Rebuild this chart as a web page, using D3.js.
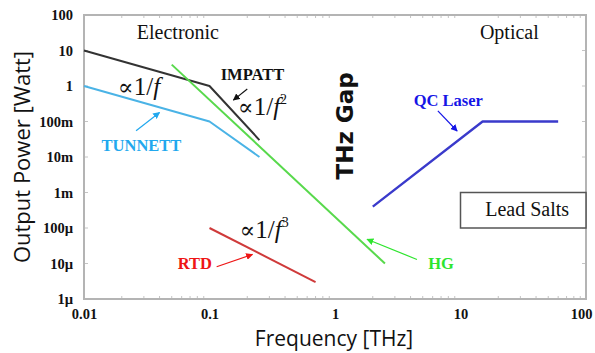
<!DOCTYPE html>
<html>
<head>
<meta charset="utf-8">
<script src="https://cdn.jsdelivr.net/npm/d3@7"></script>
<style>
  body { margin: 0; background: #fff; }
  svg { display: block; }
</style>
</head>
<body>
<div id="chart"></div>
<script>
// THz gap chart: output power vs frequency, log-log

// tick values and labels
var xTicks = [0.01, 0.1, 1, 10, 100];
var xTickLabels = ["0.01", "0.1", "1", "10", "100"];
var yTicks = [100, 10, 1, 0.1, 0.01, 0.001, 1e-4, 1e-5, 1e-6];
var yTickLabels = ["100", "10", "1", "100m", "10m", "1m", "100\u00b5", "10\u00b5", "1\u00b5"];

// source curves (THz, Watt)
var impattFreq = [0.01, 0.1, 0.25];
var impattPower = [10, 1, 0.03];
var tunnettFreq = [0.01, 0.1, 0.25];
var tunnettPower = [1, 0.1, 0.01];
var hgFreq = [0.05, 2.5];
var hgPower = [4, 1e-5];
var rtdFreq = [0.1, 0.7];
var rtdPower = [1e-4, 3e-6];
var qclFreq = [2, 15, 60];
var qclPower = [4e-4, 0.1, 0.1];

// lead salts region
var leadFreq = [10, 100];
var leadPower = [1e-3, 1e-4];

var svgWidth = 595;
var svgHeight = 353;

var svg = d3.select("#chart")
  .append("svg")
  .attr("width", svgWidth)
  .attr("height", svgHeight);

var xScale = d3.scaleLog().domain([0.01, 100]).range([84, 586]);
var yScale = d3.scaleLog().domain([1e-6, 100]).range([299, 15]);

var x0 = xScale.range()[0], x1 = xScale.range()[1];
var yTop = yScale.range()[1], yBot = yScale.range()[0];

// arrow heads
var defs = svg.append("defs");
function addMarker(id, color) {
  defs.append("marker")
    .attr("id", id)
    .attr("viewBox", "0 0 10 10")
    .attr("refX", 9).attr("refY", 5)
    .attr("markerWidth", 7).attr("markerHeight", 7)
    .attr("markerUnits", "userSpaceOnUse")
    .attr("orient", "auto")
    .append("path")
    .attr("d", "M0,0 L10,5 L0,10 z")
    .attr("fill", color);
}
addMarker("arBlack", "#111");
addMarker("arCyan", "#22a8ee");
addMarker("arBlue", "#1515e6");
addMarker("arGreen", "#2ee52e");
addMarker("arRed", "#ee1515");

// minor ticks inside the frame
var minor = [];
for (var e = -2; e < 2; e++) {
  for (var k = 2; k <= 9; k++) minor.push(k * Math.pow(10, e));
}
var tickG = svg.append("g").attr("stroke", "#c4c4c4").attr("stroke-width", 1);
tickG.selectAll("line.bm").data(minor).enter().append("line")
  .attr("x1", d => xScale(d)).attr("x2", d => xScale(d))
  .attr("y1", yBot).attr("y2", yBot - 3);
tickG.selectAll("line.tm").data(minor).enter().append("line")
  .attr("x1", d => xScale(d)).attr("x2", d => xScale(d))
  .attr("y1", yTop).attr("y2", yTop + 3);
tickG.selectAll("line.lm").data(yTicks).enter().append("line")
  .attr("x1", x0).attr("x2", x0 + 4)
  .attr("y1", d => yScale(d)).attr("y2", d => yScale(d));
tickG.selectAll("line.rm").data(yTicks).enter().append("line")
  .attr("x1", x1).attr("x2", x1 - 4)
  .attr("y1", d => yScale(d)).attr("y2", d => yScale(d));

// frame
svg.append("rect")
  .attr("x", x0).attr("y", yTop)
  .attr("width", x1 - x0).attr("height", yBot - yTop)
  .attr("fill", "none")
  .attr("stroke", "#b4b4b4")
  .attr("stroke-width", 2);

// axes labels through d3 axes
var bottomAxis = d3.axisBottom(xScale)
  .tickValues(xTicks)
  .tickFormat((d, i) => xTickLabels[i])
  .tickSize(0).tickPadding(10);
var leftAxis = d3.axisLeft(yScale)
  .tickValues(yTicks)
  .tickFormat((d, i) => yTickLabels[i])
  .tickSize(0).tickPadding(11);

var xg = svg.append("g")
  .attr("transform", `translate(0, ${yBot})`)
  .call(bottomAxis);
var yg = svg.append("g")
  .attr("transform", `translate(${x0}, 0)`)
  .call(leftAxis);
[xg, yg].forEach(function(g) {
  g.select(".domain").remove();
  g.selectAll("text")
    .attr("font-family", "'Liberation Serif', 'Times New Roman', serif")
    .attr("font-weight", "bold")
    .attr("font-size", "14.5px")
    .attr("fill", "#111");
});
// last x label would run past the right edge
xg.selectAll("text").filter(d => d === 100).attr("dx", -5);

// lead salts box
svg.append("rect")
  .attr("x", xScale(leadFreq[0])).attr("y", yScale(leadPower[0]))
  .attr("width", xScale(leadFreq[1]) - xScale(leadFreq[0]))
  .attr("height", yScale(leadPower[1]) - yScale(leadPower[0]))
  .attr("fill", "#fff")
  .attr("stroke", "#555")
  .attr("stroke-width", 1.5);

// curves
var line = d3.line()
  .x(d => xScale(d[0]))
  .y(d => yScale(d[1]));

var series = [
  {f: tunnettFreq, p: tunnettPower, color: "#4ab3e6", w: 2},
  {f: impattFreq, p: impattPower, color: "#333", w: 2},
  {f: hgFreq, p: hgPower, color: "#58d94c", w: 2},
  {f: rtdFreq, p: rtdPower, color: "#cf3a3a", w: 2},
  {f: qclFreq, p: qclPower, color: "#3a3acb", w: 2.4}
];

svg.append("g")
  .selectAll("path")
  .data(series)
  .enter()
  .append("path")
  .attr("d", d => line(d.f.map((v, i) => [v, d.p[i]])))
  .attr("fill", "none")
  .attr("stroke", d => d.color)
  .attr("stroke-width", d => d.w)
  .attr("stroke-linejoin", "round");

// annotation arrows, in data coordinates
var arrows = [
  {from: [0.2, 0.82], to: [0.155, 0.4], color: "#111", m: "arBlack"},
  {from: [0.026, 0.055], to: [0.04, 0.18], color: "#22a8ee", m: "arCyan"},
  {from: [6.6, 0.2], to: [9.4, 0.054], color: "#1515e6", m: "arBlue"},
  {from: [4.5, 1.3e-5], to: [1.8, 4.8e-5], color: "#2ee52e", m: "arGreen"},
  {from: [0.114, 8.1e-6], to: [0.22, 1.8e-5], color: "#ee1515", m: "arRed"}
];
svg.append("g")
  .selectAll("line")
  .data(arrows)
  .enter()
  .append("line")
  .attr("x1", d => xScale(d.from[0])).attr("y1", d => yScale(d.from[1]))
  .attr("x2", d => xScale(d.to[0])).attr("y2", d => yScale(d.to[1]))
  .attr("stroke", d => d.color)
  .attr("stroke-width", 1.2)
  .attr("marker-end", d => "url(#" + d.m + ")");

// text labels
var serif = "'Liberation Serif', 'Times New Roman', serif";
var labels = [
  {t: "Electronic", at: [0.056, 21], size: 20, bold: false, color: "#111"},
  {t: "Optical", at: [24.5, 21], size: 20, bold: false, color: "#111"},
  {t: "IMPATT", at: [0.22, 1.5], size: 16.5, bold: true, color: "#111"},
  {t: "TUNNETT", at: [0.0287, 0.0152], size: 16.5, bold: true, color: "#22a8ee"},
  {t: "QC Laser", at: [8, 0.28], size: 16.5, bold: true, color: "#1515e6"},
  {t: "HG", at: [7, 6.8e-6], size: 16.5, bold: true, color: "#2ee52e"},
  {t: "RTD", at: [0.0765, 6.8e-6], size: 16.5, bold: true, color: "#ee1515"},
  {t: "Lead Salts", at: [34, 2.2e-4], size: 20, bold: false, color: "#111"}
];
svg.append("g")
  .selectAll("text")
  .data(labels)
  .enter()
  .append("text")
  .attr("x", d => xScale(d.at[0]))
  .attr("y", d => yScale(d.at[1]))
  .attr("text-anchor", "middle")
  .attr("font-family", serif)
  .attr("font-size", d => d.size + "px")
  .attr("font-weight", d => d.bold ? "bold" : "normal")
  .attr("fill", d => d.color)
  .text(d => d.t);

// proportionality notes
var notes = [
  {at: [0.0187, 0.56], sup: ""},
  {at: [0.169, 0.152], sup: "2"},
  {at: [0.174, 5.2e-5], sup: "3"}
];
notes.forEach(function(n) {
  var t = svg.append("text")
    .attr("x", xScale(n.at[0]))
    .attr("y", yScale(n.at[1]))
    .attr("font-family", serif)
    .attr("font-size", "25px")
    .attr("fill", "#111");
  t.append("tspan").attr("font-family", "'DejaVu Serif', serif").attr("font-size", "23px").text("\u221d");
  t.append("tspan").text("1/");
  t.append("tspan").attr("font-style", "italic").text("f");
  if (n.sup) {
    t.append("tspan")
      .attr("font-size", "14px")
      .attr("dy", -11)
      .text(n.sup);
  }
});

// THz gap label
svg.append("text")
  .attr("transform", `translate(${xScale(1.39)}, ${yScale(0.075)}) rotate(-90)`)
  .attr("text-anchor", "middle")
  .attr("font-family", "'DejaVu Sans', sans-serif")
  .attr("font-weight", "bold")
  .attr("font-size", "23px")
  .attr("fill", "#111")
  .text("THz Gap");

// axis titles
svg.append("text")
  .attr("x", (x0 + x1) / 2 - 1)
  .attr("y", 346)
  .attr("text-anchor", "middle")
  .attr("font-family", "'Open Sans', sans-serif")
  .attr("font-size", "21px")
  .attr("fill", "#111")
  .text("Frequency [THz]");

svg.append("text")
  .attr("transform", `translate(30, ${(yTop + yBot) / 2}) rotate(-90)`)
  .attr("text-anchor", "middle")
  .attr("font-family", "'Open Sans', sans-serif")
  .attr("font-size", "22px")
  .attr("fill", "#111")
  .text("Output Power [Watt]");
</script>
</body>
</html>
